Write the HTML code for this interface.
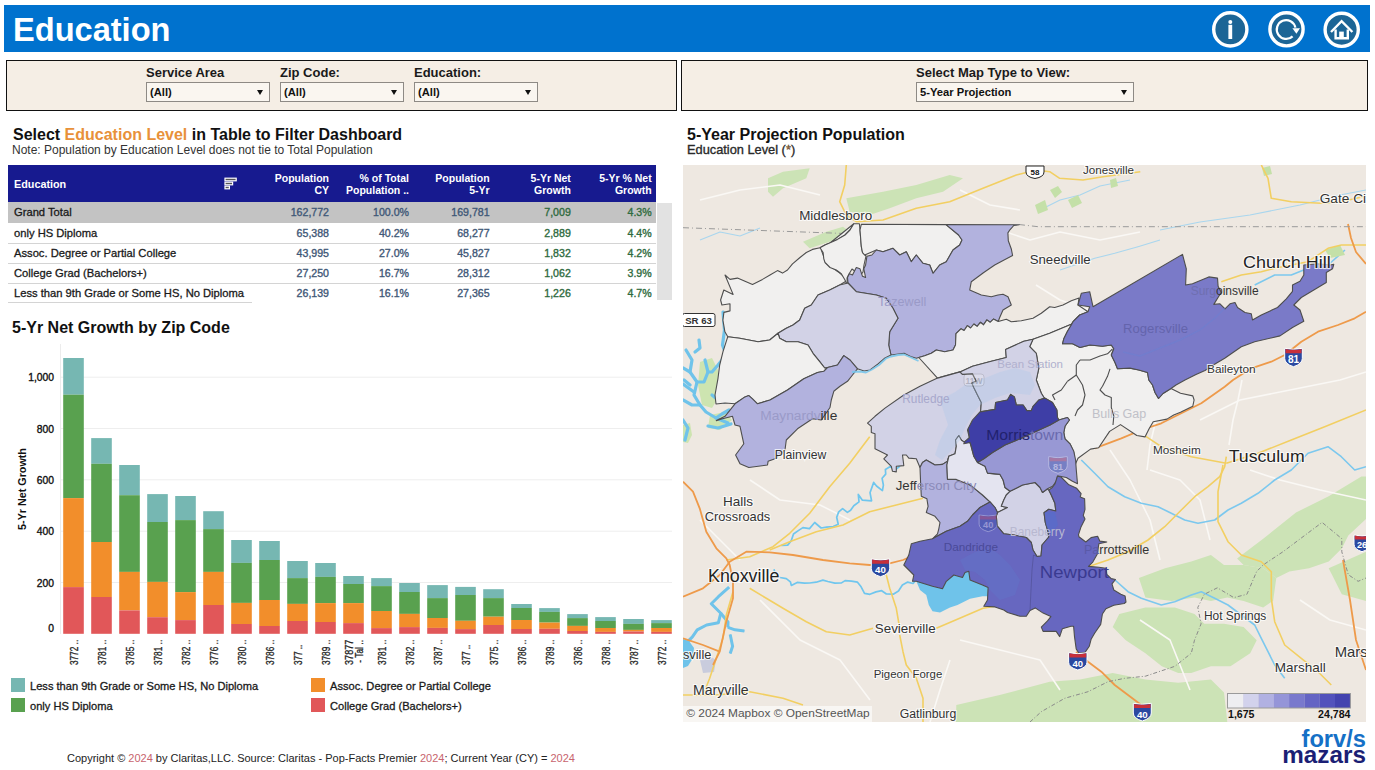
<!DOCTYPE html>
<html><head><meta charset="utf-8">
<style>
*{margin:0;padding:0;box-sizing:border-box}
html,body{width:1375px;height:770px;overflow:hidden;background:#fff;font-family:"Liberation Sans",Arial,sans-serif;color:#000}
.a{position:absolute}
#hdr{left:4px;top:5px;width:1366px;height:47px;background:#0072CE}
#hdr .t{left:9px;top:7px;font-size:32.6px;font-weight:bold;color:#fff;line-height:36px;white-space:nowrap}
.fp{background:#F5EEE5;border:1px solid #111}
.fl{font-size:13px;font-weight:bold;color:#1a1a1a;line-height:14px;white-space:nowrap}
.dd{background:#FAF6F0;border:1px solid #8E8A85;height:20px;font-size:11.2px;font-weight:bold;color:#111;line-height:18px;padding-left:3px;white-space:nowrap}
.dd:after{content:"";position:absolute;right:6px;top:7px;border-left:3.5px solid transparent;border-right:3.5px solid transparent;border-top:5px solid #111}
.h2{font-size:16px;font-weight:bold;color:#111;white-space:nowrap;line-height:18px}
.note{font-size:12px;color:#333;white-space:nowrap;line-height:14px}
#tbl{left:8px;top:165px;width:648px;height:140px}
.th{position:absolute;left:0;top:0;height:37.3px;width:648px;background:#171A8F}
.thc{position:absolute;color:#fff;font-weight:bold;font-size:10.5px;line-height:11.8px;text-align:right;white-space:nowrap}
.row{position:absolute;left:0;width:648px;height:20px}
.rl{position:absolute;left:6px;top:0;font-size:11.2px;color:#1a1a1a;-webkit-text-stroke:0.3px #1a1a1a;line-height:20px;white-space:nowrap}
.num{position:absolute;top:0;font-size:10.6px;-webkit-text-stroke:0.35px currentColor;line-height:20px;text-align:right;white-space:nowrap;width:80px}
.b{color:#3F5877}
.g{color:#2F6B40}
.sep{position:absolute;left:0;height:1px;background:#D4D4D4}
.lg{font-size:11.1px;color:#1a1a1a;-webkit-text-stroke:0.3px #1a1a1a;white-space:nowrap;line-height:14px}
.sw{position:absolute;width:14px;height:14px}
.ax{font-size:10.3px;color:#111;-webkit-text-stroke:0.35px #111;text-align:right;width:30px;white-space:nowrap}
.xl{position:absolute;font-size:9.4px;color:#333;white-space:nowrap;transform-origin:0 0;transform:rotate(-90deg);letter-spacing:-0.35px}
</style></head>
<body>
<!-- header -->
<div id="hdr" class="a">
  <div class="a t">Education</div>
</div>
<svg class="a" style="left:1205px;top:5px" width="165" height="47" viewBox="1205 5 165 47">
  <g fill="#1C6596" stroke="#fff" stroke-width="3.4">
    <circle cx="1230.3" cy="29.4" r="16.6"/>
    <circle cx="1286.5" cy="29.3" r="16.6"/>
    <circle cx="1341.7" cy="29.8" r="16.6"/>
  </g>
  <!-- i -->
  <circle cx="1230.3" cy="21.9" r="2" fill="#fff"/>
  <rect x="1228.4" y="24.8" width="3.8" height="14.2" fill="#fff"/>
  <!-- refresh -->
  <path d="M1292.6 36.4 A9.4 9.4 0 1 1 1295.4 27.6" fill="none" stroke="#fff" stroke-width="2.2"/>
  <path d="M1292.4 28.2 L1300 28.2 L1296.4 33.8 Z" fill="#fff"/>
  <!-- home -->
  <path d="M1331 32 L1341.6 21.2 L1352.4 32" fill="none" stroke="#fff" stroke-width="2.4" stroke-linejoin="miter"/>
  <path d="M1335.6 29.5 V38.2 H1347.8 V29.5" fill="none" stroke="#fff" stroke-width="2.4"/>
  <rect x="1339.2" y="31.6" width="4.6" height="7" fill="#fff"/>
</svg>

<!-- filter panels -->
<div class="a fp" style="left:6px;top:60px;width:671px;height:51px"></div>
<div class="a fl" style="left:146px;top:66px">Service Area</div>
<div class="a dd" style="left:146px;top:82px;width:124px">(All)</div>
<div class="a fl" style="left:280px;top:66px">Zip Code:</div>
<div class="a dd" style="left:280px;top:82px;width:124px">(All)</div>
<div class="a fl" style="left:414px;top:66px">Education:</div>
<div class="a dd" style="left:414px;top:82px;width:124px">(All)</div>

<div class="a fp" style="left:681px;top:60px;width:687px;height:51px"></div>
<div class="a fl" style="left:916px;top:66px">Select Map Type to View:</div>
<div class="a dd" style="left:916px;top:82px;width:218px">5-Year Projection</div>

<!-- table title -->
<div class="a h2" style="left:13px;top:125.5px">Select <span style="color:#E8913A">Education Level</span> in Table to Filter Dashboard</div>
<div class="a note" style="left:12px;top:143px">Note: Population by Education Level does not tie to Total Population</div>

<!-- table -->
<div id="tbl" class="a">
  <div class="th">
    <div class="thc" style="left:6px;top:14px;text-align:left;font-size:10.8px">Education</div>
    <svg class="a" style="left:216px;top:12px" width="14" height="14" viewBox="0 0 14 14">
      <g fill="#555" stroke="#fff" stroke-width="1.2">
        <rect x="1" y="1.2" width="11.2" height="2.6"/>
        <rect x="1" y="5.2" width="7.6" height="2.6"/>
        <rect x="1" y="9.2" width="4.4" height="2.6"/>
      </g>
    </svg>
    <div class="thc" style="right:327px;top:8px">Population<br>CY</div>
    <div class="thc" style="right:247px;top:8px">% of Total<br>Population ..</div>
    <div class="thc" style="right:166.4px;top:8px">Population<br>5-Yr</div>
    <div class="thc" style="right:85.2px;top:8px">5-Yr Net<br>Growth</div>
    <div class="thc" style="right:4.3px;top:8px">5-Yr % Net<br>Growth</div>
  </div>
  <div class="row" style="top:37.3px;height:21.2px;background:#C3C3C3">
    <div class="rl">Grand Total</div>
    <div class="num b" style="left:241px">162,772</div>
    <div class="num b" style="left:321px">100.0%</div>
    <div class="num b" style="left:401.6px">169,781</div>
    <div class="num g" style="left:482.8px">7,009</div>
    <div class="num g" style="left:563.7px">4.3%</div>
  </div>
  <div class="row" style="top:58px">
    <div class="rl">only HS Diploma</div>
    <div class="num b" style="left:241px">65,388</div>
    <div class="num b" style="left:321px">40.2%</div>
    <div class="num b" style="left:401.6px">68,277</div>
    <div class="num g" style="left:482.8px">2,889</div>
    <div class="num g" style="left:563.7px">4.4%</div>
  </div>
  <div class="sep" style="top:78px;width:648px"></div>
  <div class="row" style="top:78px">
    <div class="rl">Assoc. Degree or Partial College</div>
    <div class="num b" style="left:241px">43,995</div>
    <div class="num b" style="left:321px">27.0%</div>
    <div class="num b" style="left:401.6px">45,827</div>
    <div class="num g" style="left:482.8px">1,832</div>
    <div class="num g" style="left:563.7px">4.2%</div>
  </div>
  <div class="sep" style="top:98px;width:648px"></div>
  <div class="row" style="top:98px">
    <div class="rl">College Grad (Bachelors+)</div>
    <div class="num b" style="left:241px">27,250</div>
    <div class="num b" style="left:321px">16.7%</div>
    <div class="num b" style="left:401.6px">28,312</div>
    <div class="num g" style="left:482.8px">1,062</div>
    <div class="num g" style="left:563.7px">3.9%</div>
  </div>
  <div class="sep" style="top:118px;width:648px"></div>
  <div class="row" style="top:118px">
    <div class="rl">Less than 9th Grade or Some HS, No Diploma</div>
    <div class="num b" style="left:241px">26,139</div>
    <div class="num b" style="left:321px">16.1%</div>
    <div class="num b" style="left:401.6px">27,365</div>
    <div class="num g" style="left:482.8px">1,226</div>
    <div class="num g" style="left:563.7px">4.7%</div>
  </div>
  <div class="sep" style="top:137px;width:244px"></div>
</div>
<div class="a" style="left:657px;top:203px;width:15px;height:97px;background:#E2E2E2"></div>

<!-- chart title -->
<div class="a h2" style="left:12px;top:319px">5-Yr Net Growth by Zip Code</div>
<svg class="a" style="left:0;top:340px" width="680" height="300" viewBox="0 340 680 300">
<line x1="61" y1="582.5" x2="672" y2="582.5" stroke="#EEEEEE" stroke-width="1"/>
<line x1="61" y1="531.2" x2="672" y2="531.2" stroke="#EEEEEE" stroke-width="1"/>
<line x1="61" y1="479.8" x2="672" y2="479.8" stroke="#EEEEEE" stroke-width="1"/>
<line x1="61" y1="428.5" x2="672" y2="428.5" stroke="#EEEEEE" stroke-width="1"/>
<line x1="61" y1="377.2" x2="672" y2="377.2" stroke="#EEEEEE" stroke-width="1"/>
<line x1="60.5" y1="344" x2="60.5" y2="634" stroke="#ECECEC" stroke-width="1"/>
<rect x="63.2" y="358.0" width="20.6" height="36.7" fill="#76B7B2"/>
<rect x="63.2" y="394.7" width="20.6" height="103.4" fill="#59A14F"/>
<rect x="63.2" y="498.1" width="20.6" height="89.0" fill="#F28E2B"/>
<rect x="63.2" y="587.1" width="20.6" height="46.7" fill="#E15759"/>
<rect x="91.2" y="438.1" width="20.6" height="25.7" fill="#76B7B2"/>
<rect x="91.2" y="463.8" width="20.6" height="78.2" fill="#59A14F"/>
<rect x="91.2" y="542.0" width="20.6" height="55.0" fill="#F28E2B"/>
<rect x="91.2" y="597.0" width="20.6" height="36.8" fill="#E15759"/>
<rect x="119.2" y="465.0" width="20.6" height="30.2" fill="#76B7B2"/>
<rect x="119.2" y="495.2" width="20.6" height="76.7" fill="#59A14F"/>
<rect x="119.2" y="571.9" width="20.6" height="38.5" fill="#F28E2B"/>
<rect x="119.2" y="610.4" width="20.6" height="23.4" fill="#E15759"/>
<rect x="147.2" y="494.1" width="20.6" height="27.9" fill="#76B7B2"/>
<rect x="147.2" y="522.0" width="20.6" height="59.9" fill="#59A14F"/>
<rect x="147.2" y="581.9" width="20.6" height="35.3" fill="#F28E2B"/>
<rect x="147.2" y="617.2" width="20.6" height="16.6" fill="#E15759"/>
<rect x="175.2" y="496.0" width="20.6" height="24.1" fill="#76B7B2"/>
<rect x="175.2" y="520.1" width="20.6" height="72.0" fill="#59A14F"/>
<rect x="175.2" y="592.1" width="20.6" height="28.0" fill="#F28E2B"/>
<rect x="175.2" y="620.1" width="20.6" height="13.7" fill="#E15759"/>
<rect x="203.2" y="511.2" width="20.6" height="17.9" fill="#76B7B2"/>
<rect x="203.2" y="529.1" width="20.6" height="42.8" fill="#59A14F"/>
<rect x="203.2" y="571.9" width="20.6" height="33.1" fill="#F28E2B"/>
<rect x="203.2" y="605.0" width="20.6" height="28.8" fill="#E15759"/>
<rect x="231.2" y="540.0" width="20.6" height="22.9" fill="#76B7B2"/>
<rect x="231.2" y="562.9" width="20.6" height="40.0" fill="#59A14F"/>
<rect x="231.2" y="602.9" width="20.6" height="21.1" fill="#F28E2B"/>
<rect x="231.2" y="624.0" width="20.6" height="9.8" fill="#E15759"/>
<rect x="259.2" y="541.0" width="20.6" height="19.0" fill="#76B7B2"/>
<rect x="259.2" y="560.0" width="20.6" height="40.0" fill="#59A14F"/>
<rect x="259.2" y="600.0" width="20.6" height="26.0" fill="#F28E2B"/>
<rect x="259.2" y="626.0" width="20.6" height="7.8" fill="#E15759"/>
<rect x="287.2" y="561.0" width="20.6" height="17.1" fill="#76B7B2"/>
<rect x="287.2" y="578.1" width="20.6" height="25.8" fill="#59A14F"/>
<rect x="287.2" y="603.9" width="20.6" height="17.1" fill="#F28E2B"/>
<rect x="287.2" y="621.0" width="20.6" height="12.8" fill="#E15759"/>
<rect x="315.2" y="563.0" width="20.6" height="13.9" fill="#76B7B2"/>
<rect x="315.2" y="576.9" width="20.6" height="26.2" fill="#59A14F"/>
<rect x="315.2" y="603.1" width="20.6" height="18.9" fill="#F28E2B"/>
<rect x="315.2" y="622.0" width="20.6" height="11.8" fill="#E15759"/>
<rect x="343.2" y="576.0" width="20.6" height="8.0" fill="#76B7B2"/>
<rect x="343.2" y="584.0" width="20.6" height="19.1" fill="#59A14F"/>
<rect x="343.2" y="603.1" width="20.6" height="20.0" fill="#F28E2B"/>
<rect x="343.2" y="623.1" width="20.6" height="10.7" fill="#E15759"/>
<rect x="371.2" y="578.1" width="20.6" height="8.0" fill="#76B7B2"/>
<rect x="371.2" y="586.1" width="20.6" height="24.9" fill="#59A14F"/>
<rect x="371.2" y="611.0" width="20.6" height="17.1" fill="#F28E2B"/>
<rect x="371.2" y="628.1" width="20.6" height="5.7" fill="#E15759"/>
<rect x="399.2" y="583.0" width="20.6" height="9.0" fill="#76B7B2"/>
<rect x="399.2" y="592.0" width="20.6" height="21.9" fill="#59A14F"/>
<rect x="399.2" y="613.9" width="20.6" height="13.2" fill="#F28E2B"/>
<rect x="399.2" y="627.1" width="20.6" height="6.7" fill="#E15759"/>
<rect x="427.2" y="585.1" width="20.6" height="13.0" fill="#76B7B2"/>
<rect x="427.2" y="598.1" width="20.6" height="19.9" fill="#59A14F"/>
<rect x="427.2" y="618.0" width="20.6" height="9.9" fill="#F28E2B"/>
<rect x="427.2" y="627.9" width="20.6" height="5.9" fill="#E15759"/>
<rect x="455.2" y="586.9" width="20.6" height="8.1" fill="#76B7B2"/>
<rect x="455.2" y="595.0" width="20.6" height="25.8" fill="#59A14F"/>
<rect x="455.2" y="620.8" width="20.6" height="8.3" fill="#F28E2B"/>
<rect x="455.2" y="629.1" width="20.6" height="4.7" fill="#E15759"/>
<rect x="483.2" y="589.2" width="20.6" height="8.9" fill="#76B7B2"/>
<rect x="483.2" y="598.1" width="20.6" height="18.6" fill="#59A14F"/>
<rect x="483.2" y="616.7" width="20.6" height="8.3" fill="#F28E2B"/>
<rect x="483.2" y="625.0" width="20.6" height="8.8" fill="#E15759"/>
<rect x="511.2" y="604.0" width="20.6" height="4.0" fill="#76B7B2"/>
<rect x="511.2" y="608.0" width="20.6" height="12.0" fill="#59A14F"/>
<rect x="511.2" y="620.0" width="20.6" height="9.0" fill="#F28E2B"/>
<rect x="511.2" y="629.0" width="20.6" height="4.8" fill="#E15759"/>
<rect x="539.2" y="608.1" width="20.6" height="3.8" fill="#76B7B2"/>
<rect x="539.2" y="611.9" width="20.6" height="10.7" fill="#59A14F"/>
<rect x="539.2" y="622.6" width="20.6" height="6.2" fill="#F28E2B"/>
<rect x="539.2" y="628.8" width="20.6" height="5.0" fill="#E15759"/>
<rect x="567.2" y="614.1" width="20.6" height="4.0" fill="#76B7B2"/>
<rect x="567.2" y="618.1" width="20.6" height="7.8" fill="#59A14F"/>
<rect x="567.2" y="625.9" width="20.6" height="5.1" fill="#F28E2B"/>
<rect x="567.2" y="631.0" width="20.6" height="2.8" fill="#E15759"/>
<rect x="595.2" y="617.1" width="20.6" height="3.9" fill="#76B7B2"/>
<rect x="595.2" y="621.0" width="20.6" height="7.0" fill="#59A14F"/>
<rect x="595.2" y="628.0" width="20.6" height="3.9" fill="#F28E2B"/>
<rect x="595.2" y="631.9" width="20.6" height="1.9" fill="#E15759"/>
<rect x="623.2" y="619.0" width="20.6" height="4.9" fill="#76B7B2"/>
<rect x="623.2" y="623.9" width="20.6" height="6.0" fill="#59A14F"/>
<rect x="623.2" y="629.9" width="20.6" height="1.6" fill="#F28E2B"/>
<rect x="623.2" y="631.5" width="20.6" height="2.3" fill="#E15759"/>
<rect x="651.2" y="620.1" width="20.6" height="3.0" fill="#76B7B2"/>
<rect x="651.2" y="623.1" width="20.6" height="4.9" fill="#59A14F"/>
<rect x="651.2" y="628.0" width="20.6" height="3.9" fill="#F28E2B"/>
<rect x="651.2" y="631.9" width="20.6" height="1.9" fill="#E15759"/>
</svg>
<div class="a ax" style="left:24px;top:621.6px;line-height:14px">0</div>
<div class="a ax" style="left:24px;top:576.5px;line-height:14px">200</div>
<div class="a ax" style="left:24px;top:525.2px;line-height:14px">400</div>
<div class="a ax" style="left:24px;top:473.8px;line-height:14px">600</div>
<div class="a ax" style="left:24px;top:422.5px;line-height:14px">800</div>
<div class="a ax" style="left:24px;top:371.2px;line-height:14px">1,000</div>
<div class="a" style="left:16px;top:530px;transform-origin:0 0;transform:rotate(-90deg);font-size:10.75px;font-weight:bold;color:#111;white-space:nowrap;line-height:12px;width:82px;text-align:center">5-Yr Net Growth</div>
<svg class="a" style="left:0;top:630px" width="680" height="45" viewBox="0 630 680 45">
<text transform="translate(78.4,665.1) rotate(-90)" font-size="10" textLength="25.3" lengthAdjust="spacingAndGlyphs" fill="#222" stroke="#222" stroke-width="0.3" font-family="Liberation Sans, sans-serif">3772 ..</text>
<text transform="translate(106.4,665.1) rotate(-90)" font-size="10" textLength="25.3" lengthAdjust="spacingAndGlyphs" fill="#222" stroke="#222" stroke-width="0.3" font-family="Liberation Sans, sans-serif">3781 ..</text>
<text transform="translate(134.4,665.1) rotate(-90)" font-size="10" textLength="25.3" lengthAdjust="spacingAndGlyphs" fill="#222" stroke="#222" stroke-width="0.3" font-family="Liberation Sans, sans-serif">3785 ..</text>
<text transform="translate(162.4,665.1) rotate(-90)" font-size="10" textLength="25.3" lengthAdjust="spacingAndGlyphs" fill="#222" stroke="#222" stroke-width="0.3" font-family="Liberation Sans, sans-serif">3781 ..</text>
<text transform="translate(190.4,665.1) rotate(-90)" font-size="10" textLength="25.3" lengthAdjust="spacingAndGlyphs" fill="#222" stroke="#222" stroke-width="0.3" font-family="Liberation Sans, sans-serif">3782 ..</text>
<text transform="translate(218.4,665.1) rotate(-90)" font-size="10" textLength="25.3" lengthAdjust="spacingAndGlyphs" fill="#222" stroke="#222" stroke-width="0.3" font-family="Liberation Sans, sans-serif">3776 ..</text>
<text transform="translate(246.4,665.1) rotate(-90)" font-size="10" textLength="25.3" lengthAdjust="spacingAndGlyphs" fill="#222" stroke="#222" stroke-width="0.3" font-family="Liberation Sans, sans-serif">3780 ..</text>
<text transform="translate(274.4,665.1) rotate(-90)" font-size="10" textLength="25.3" lengthAdjust="spacingAndGlyphs" fill="#222" stroke="#222" stroke-width="0.3" font-family="Liberation Sans, sans-serif">3786 ..</text>
<text transform="translate(302.4,665.1) rotate(-90)" font-size="10" textLength="20.4" lengthAdjust="spacingAndGlyphs" fill="#222" stroke="#222" stroke-width="0.3" font-family="Liberation Sans, sans-serif">377 ..</text>
<text transform="translate(330.4,665.1) rotate(-90)" font-size="10" textLength="25.3" lengthAdjust="spacingAndGlyphs" fill="#222" stroke="#222" stroke-width="0.3" font-family="Liberation Sans, sans-serif">3789 ..</text>
<text transform="translate(353.0,664.9) rotate(-90)" font-size="10" textLength="25.1" lengthAdjust="spacingAndGlyphs" fill="#222" stroke="#222" stroke-width="0.3" font-family="Liberation Sans, sans-serif">37877</text>
<text transform="translate(363.0,662.8) rotate(-90)" font-size="10" textLength="22.8" lengthAdjust="spacingAndGlyphs" fill="#222" stroke="#222" stroke-width="0.3" font-family="Liberation Sans, sans-serif">- Tal ..</text>
<text transform="translate(386.4,665.1) rotate(-90)" font-size="10" textLength="25.3" lengthAdjust="spacingAndGlyphs" fill="#222" stroke="#222" stroke-width="0.3" font-family="Liberation Sans, sans-serif">3781 ..</text>
<text transform="translate(414.4,665.1) rotate(-90)" font-size="10" textLength="25.3" lengthAdjust="spacingAndGlyphs" fill="#222" stroke="#222" stroke-width="0.3" font-family="Liberation Sans, sans-serif">3782 ..</text>
<text transform="translate(442.4,665.1) rotate(-90)" font-size="10" textLength="25.3" lengthAdjust="spacingAndGlyphs" fill="#222" stroke="#222" stroke-width="0.3" font-family="Liberation Sans, sans-serif">3787 ..</text>
<text transform="translate(470.4,665.1) rotate(-90)" font-size="10" textLength="20.4" lengthAdjust="spacingAndGlyphs" fill="#222" stroke="#222" stroke-width="0.3" font-family="Liberation Sans, sans-serif">377 ..</text>
<text transform="translate(498.4,665.1) rotate(-90)" font-size="10" textLength="25.3" lengthAdjust="spacingAndGlyphs" fill="#222" stroke="#222" stroke-width="0.3" font-family="Liberation Sans, sans-serif">3775 ..</text>
<text transform="translate(526.4,665.1) rotate(-90)" font-size="10" textLength="25.3" lengthAdjust="spacingAndGlyphs" fill="#222" stroke="#222" stroke-width="0.3" font-family="Liberation Sans, sans-serif">3786 ..</text>
<text transform="translate(554.4,665.1) rotate(-90)" font-size="10" textLength="25.3" lengthAdjust="spacingAndGlyphs" fill="#222" stroke="#222" stroke-width="0.3" font-family="Liberation Sans, sans-serif">3789 ..</text>
<text transform="translate(582.4,665.1) rotate(-90)" font-size="10" textLength="25.3" lengthAdjust="spacingAndGlyphs" fill="#222" stroke="#222" stroke-width="0.3" font-family="Liberation Sans, sans-serif">3786 ..</text>
<text transform="translate(610.4,665.1) rotate(-90)" font-size="10" textLength="25.3" lengthAdjust="spacingAndGlyphs" fill="#222" stroke="#222" stroke-width="0.3" font-family="Liberation Sans, sans-serif">3788 ..</text>
<text transform="translate(638.4,665.1) rotate(-90)" font-size="10" textLength="25.3" lengthAdjust="spacingAndGlyphs" fill="#222" stroke="#222" stroke-width="0.3" font-family="Liberation Sans, sans-serif">3787 ..</text>
<text transform="translate(666.4,665.1) rotate(-90)" font-size="10" textLength="25.3" lengthAdjust="spacingAndGlyphs" fill="#222" stroke="#222" stroke-width="0.3" font-family="Liberation Sans, sans-serif">3772 ..</text>
</svg>

<!-- legend -->
<div class="sw" style="left:11px;top:678px;background:#76B7B2"></div>
<div class="a lg" style="left:30px;top:679px">Less than 9th Grade or Some HS, No Diploma</div>
<div class="sw" style="left:11px;top:698px;background:#59A14F"></div>
<div class="a lg" style="left:30px;top:699px">only HS Diploma</div>
<div class="sw" style="left:311px;top:678px;background:#F28E2B"></div>
<div class="a lg" style="left:330px;top:679px">Assoc. Degree or Partial College</div>
<div class="sw" style="left:311px;top:698px;background:#E15759"></div>
<div class="a lg" style="left:330px;top:699px">College Grad (Bachelors+)</div>

<!-- map title -->
<div class="a h2" style="left:687px;top:125.5px">5-Year Projection Population</div>
<div class="a" style="left:687px;top:142.8px;font-size:12.8px;color:#2a2a2a;-webkit-text-stroke:0.35px #2a2a2a;white-space:nowrap;line-height:14px">Education Level (<span style="color:#E8913A">*</span>)</div>

<svg class="a" style="left:683px;top:165px" width="683" height="557" viewBox="683 165 683 557">
<defs><clipPath id="mc"><rect x="683" y="165" width="683" height="557"/></clipPath></defs>
<g clip-path="url(#mc)">
<rect x="683" y="165" width="683" height="557" fill="#EEE8E1"/>
<polygon points="1237.1,558.4 1263.2,538.7 1296.0,512.5 1328.7,496.2 1361.4,476.5 1366.0,476.5 1366.0,519.1 1348.3,535.4 1341.8,548.5 1328.7,561.6 1309.1,568.2 1289.4,571.4 1276.3,578.0 1263.2,568.2 1243.6,564.9" fill="#CCE3B6"/>
<polygon points="1138.9,578.0 1165.1,568.2 1191.3,561.6 1210.9,555.1 1224.0,564.9 1243.6,564.9 1263.2,568.2 1276.3,578.0 1273.1,600.9 1263.2,607.4 1243.6,600.9 1227.3,597.6 1210.9,600.9 1194.5,597.6 1171.6,600.9 1145.4,597.6" fill="#CCE3B6"/>
<polygon points="1119.3,614.0 1145.4,607.4 1174.9,607.4 1194.5,614.0 1204.3,623.8 1224.0,623.8 1243.6,627.1 1256.7,640.2 1250.2,653.2 1230.5,666.3 1210.9,666.3 1191.3,672.9 1178.2,672.9 1161.8,666.3 1145.4,653.2 1125.8,640.2 1112.7,627.1" fill="#CCE3B6"/>
<polygon points="956.0,722.0 956.3,705.0 999.7,695.0 1049.7,681.7 1080.0,679.4 1112.7,672.9 1145.4,679.4 1178.2,682.7 1210.9,679.4 1224.0,692.5 1227.3,722.0" fill="#CCE3B6"/>
<polygon points="1328.7,568.2 1366.0,551.8 1366.0,600.9 1341.8,594.3" fill="#CCE3B6"/>
<polygon points="768.0,178.3 783.0,171.7 809.7,168.3 806.3,178.3 783.0,188.3 773.0,196.7 768.0,191.7" fill="#CCE3B6"/>
<polygon points="846.3,198.3 883.0,191.7 916.3,185.0 949.7,175.0 963.0,178.3 943.0,191.7 916.3,198.3 889.7,208.3 869.7,215.0 849.7,211.7" fill="#CCE3B6"/>
<polygon points="803.0,241.7 826.3,231.7 843.0,226.7 849.7,231.7 829.7,241.7 809.7,248.3" fill="#CCE3B6"/>
<polygon points="700.0,362.0 712.0,358.0 718.0,370.0 720.0,395.0 712.0,408.0 702.0,405.0 698.0,385.0" fill="#CDE4B0"/>
<polygon points="683.0,425.0 690.0,423.0 692.0,435.0 688.0,443.0 683.0,442.0" fill="#CDE4B0"/>
<polygon points="710.0,415.0 725.0,412.0 732.0,420.0 720.0,430.0 708.0,428.0" fill="#CDE4B0"/>
<polygon points="683.0,639.0 689.0,641.0 694.0,648.0 693.0,658.0 688.0,666.0 683.0,668.0" fill="#6FC3EA"/>
<polyline points="686.0,350.0 692.0,360.0 690.0,372.0 697.0,382.0 694.0,395.0 700.0,405.0 706.0,412.0 716.0,418.0 728.0,423.0" fill="none" stroke="#6FC3EA" stroke-width="3.2" stroke-linejoin="round" stroke-linecap="round"/>
<polyline points="683.0,368.0 690.0,372.0" fill="none" stroke="#6FC3EA" stroke-width="3.2" stroke-linejoin="round" stroke-linecap="round"/>
<polyline points="683.0,384.0 694.0,392.0" fill="none" stroke="#6FC3EA" stroke-width="3.2" stroke-linejoin="round" stroke-linecap="round"/>
<polyline points="683.0,400.0 692.0,405.0 700.0,405.0" fill="none" stroke="#6FC3EA" stroke-width="3.2" stroke-linejoin="round" stroke-linecap="round"/>
<polyline points="705.0,360.0 708.0,372.0 704.0,382.0 697.0,382.0" fill="none" stroke="#6FC3EA" stroke-width="3.2" stroke-linejoin="round" stroke-linecap="round"/>
<polyline points="723.0,312.0 724.5,330.0 722.5,345.0 726.0,355.0 718.0,365.0 712.0,372.0 708.0,372.0" fill="none" stroke="#6FC3EA" stroke-width="3.2" stroke-linejoin="round" stroke-linecap="round"/>
<polyline points="712.0,395.0 718.0,400.0 724.0,402.0" fill="none" stroke="#6FC3EA" stroke-width="3.2" stroke-linejoin="round" stroke-linecap="round"/>
<polyline points="716.0,418.0 722.0,414.0 729.0,410.0" fill="none" stroke="#6FC3EA" stroke-width="3.2" stroke-linejoin="round" stroke-linecap="round"/>
<polyline points="708.0,426.0 718.0,428.0 731.0,424.0" fill="none" stroke="#6FC3EA" stroke-width="3.2" stroke-linejoin="round" stroke-linecap="round"/>
<polyline points="683.0,420.0 688.0,428.0 685.0,440.0" fill="none" stroke="#6FC3EA" stroke-width="3.2" stroke-linejoin="round" stroke-linecap="round"/>
<polyline points="695.0,352.0 700.0,348.0 699.0,340.0" fill="none" stroke="#6FC3EA" stroke-width="3.2" stroke-linejoin="round" stroke-linecap="round"/>
<polyline points="690.0,385.0 684.0,380.0" fill="none" stroke="#6FC3EA" stroke-width="3.2" stroke-linejoin="round" stroke-linecap="round"/>
<polygon points="916.3,581.3 923.8,581.3 932.5,586.3 942.5,588.8 946.3,581.3 953.8,575.0 962.5,577.5 965.0,572.5 968.8,571.3 970.0,580.0 982.5,585.0 988.1,587.5 988.1,596.3 982.5,596.3 970.0,598.8 957.5,605.0 950.0,607.5 940.0,612.5 932.5,611.3 928.8,605.0 926.3,595.0 920.0,590.0" fill="#6FC3EA"/>
<polygon points="700,660 708,655 716,660 714,672 703,673" fill="#C9CCDD"/>
<polyline points="1242.0,380.0 1238.0,400.0 1233.0,420.0 1229.0,445.0" fill="none" stroke="#FAF8F5" stroke-width="1.6" stroke-linejoin="round"/>
<polyline points="1160.0,400.0 1156.0,420.0 1150.0,445.0 1147.0,470.0" fill="none" stroke="#FAF8F5" stroke-width="1.6" stroke-linejoin="round"/>
<polyline points="700.0,200.0 740.0,190.0 780.0,185.0 820.0,195.0" fill="none" stroke="#FAF8F5" stroke-width="1.6" stroke-linejoin="round"/>
<polyline points="880.0,290.0 900.0,280.0 930.0,275.0" fill="none" stroke="#FAF8F5" stroke-width="1.6" stroke-linejoin="round"/>
<polyline points="1036.0,285.0 1060.0,300.0 1090.0,310.0" fill="none" stroke="#FAF8F5" stroke-width="1.6" stroke-linejoin="round"/>
<polyline points="1200.0,420.0 1240.0,400.0 1290.0,390.0 1340.0,380.0 1366.0,372.0" fill="none" stroke="#FAF8F5" stroke-width="1.6" stroke-linejoin="round"/>
<polyline points="1250.0,470.0 1280.0,480.0 1320.0,490.0 1366.0,500.0" fill="none" stroke="#FAF8F5" stroke-width="1.6" stroke-linejoin="round"/>
<polyline points="1150.0,470.0 1180.0,480.0 1200.0,500.0 1210.0,540.0" fill="none" stroke="#FAF8F5" stroke-width="1.6" stroke-linejoin="round"/>
<polyline points="750.0,480.0 780.0,500.0 820.0,505.0 850.0,520.0" fill="none" stroke="#FAF8F5" stroke-width="1.6" stroke-linejoin="round"/>
<polyline points="760.0,600.0 800.0,640.0 840.0,660.0 870.0,700.0" fill="none" stroke="#FAF8F5" stroke-width="1.6" stroke-linejoin="round"/>
<polyline points="960.0,640.0 1000.0,650.0 1040.0,660.0 1060.0,690.0" fill="none" stroke="#FAF8F5" stroke-width="1.6" stroke-linejoin="round"/>
<polyline points="700.0,520.0 720.0,540.0 740.0,560.0" fill="none" stroke="#FAF8F5" stroke-width="1.6" stroke-linejoin="round"/>
<polyline points="950.0,660.0 940.0,690.0 930.0,722.0" fill="none" stroke="#FAF8F5" stroke-width="1.6" stroke-linejoin="round"/>
<polyline points="1110.0,450.0 1130.0,480.0 1150.0,520.0 1160.0,560.0" fill="none" stroke="#FAF8F5" stroke-width="1.6" stroke-linejoin="round"/>
<polyline points="1140.0,620.0 1170.0,640.0 1190.0,690.0" fill="none" stroke="#FAF8F5" stroke-width="1.6" stroke-linejoin="round"/>
<polyline points="1300.0,600.0 1330.0,620.0 1366.0,630.0" fill="none" stroke="#FAF8F5" stroke-width="1.6" stroke-linejoin="round"/>
<polyline points="1000.0,230.0 1030.0,240.0 1060.0,232.0 1100.0,240.0 1140.0,232.0" fill="none" stroke="#FAF8F5" stroke-width="1.6" stroke-linejoin="round"/>
<polyline points="960.0,190.0 990.0,205.0 1020.0,210.0" fill="none" stroke="#FAF8F5" stroke-width="1.6" stroke-linejoin="round"/>
<polyline points="1060.0,270.0 1094.7,258.3 1114.7,253.3 1138.0,246.7 1160.0,240.0" fill="none" stroke="#A9D6EE" stroke-width="1.1" stroke-linejoin="round"/>
<polyline points="1160.0,230.0 1200.0,222.0 1250.0,215.0 1300.0,205.0 1340.0,195.0 1366.0,190.0" fill="none" stroke="#A9D6EE" stroke-width="1.1" stroke-linejoin="round"/>
<polyline points="1040.0,210.0 1060.0,200.0 1080.0,195.0 1100.0,186.0 1130.0,180.0" fill="none" stroke="#A9D6EE" stroke-width="1.1" stroke-linejoin="round"/>
<polyline points="700.0,240.0 720.0,232.0 740.0,236.0 760.0,228.0" fill="none" stroke="#A9D6EE" stroke-width="1.1" stroke-linejoin="round"/>
<polyline points="774.0,569.2 775.6,574.9 780.1,577.5 786.3,578.6 790.4,581.8 791.3,585.4 797.2,582.4 804.5,583.1 809.7,583.0 816.2,582.2 822.9,580.1 827.8,581.5 834.9,583.1 841.5,582.9 845.1,580.6 851.4,581.2 857.5,582.2 861.1,586.8 864.5,593.3 869.9,594.3 876.0,591.9 881.7,590.7 886.4,594.0 893.3,594.2 898.5,591.0 902.4,585.0 907.7,582.1 913.1,583.5 916.0,580.0" fill="none" stroke="#6FC6EE" stroke-width="1.7" stroke-linejoin="round"/>
<polyline points="781.2,545.5 787.7,545.1 791.3,540.6 793.5,534.0 798.3,530.6 802.9,527.6 809.5,528.6 814.7,522.5 821.1,528.0 826.6,527.2 833.2,526.5 838.2,524.3 836.7,517.3 838.7,511.9 842.6,508.7 847.4,512.4 850.6,510.2 853.8,505.8 859.0,501.9 858.3,494.4 862.4,500.2 871.6,500.8 870.0,492.7 873.7,482.4 876.5,486.0 882.4,490.6 883.4,485.1 882.1,478.3 885.7,474.1 885.4,469.4 890.3,466.6 895.6,469.7 900.0,466.0" fill="none" stroke="#6FC6EE" stroke-width="1.7" stroke-linejoin="round"/>
<polyline points="1081.3,460.0 1094.7,473.3 1108.0,486.7 1124.7,496.7 1141.3,503.3 1158.0,506.7 1171.3,513.3 1184.7,520.0 1198.0,523.3 1214.7,520.0 1228.0,510.0 1241.3,503.3 1258.0,493.3 1274.7,480.0 1291.3,470.0 1308.0,453.3 1328.0,446.7 1341.3,456.7 1354.7,470.0 1366.0,466.7" fill="none" stroke="#7CC8EE" stroke-width="1.6" stroke-linejoin="round"/>
<polyline points="1115.0,580.0 1128.0,591.7 1141.3,598.3 1161.3,605.0 1174.7,601.7 1191.3,595.0 1201.3,591.7 1214.7,598.3 1228.0,605.0 1241.3,615.0 1254.7,625.0 1261.3,638.3 1268.0,651.7 1274.7,665.0 1284.7,678.3" fill="none" stroke="#7CC8EE" stroke-width="1.6" stroke-linejoin="round"/>
<polyline points="1254.7,285.0 1274.7,275.0 1291.3,275.0 1308.0,268.3 1328.0,265.0 1345.0,250.0" fill="none" stroke="#7CC8EE" stroke-width="1.6" stroke-linejoin="round"/>
<polyline points="729.1,587.2 718.4,596.7 711.3,603.8 720.8,613.2 718.4,622.7 706.6,625.0 697.2,629.8 692.4,636.9 687.7,641.6 683.0,644.0" fill="none" stroke="#7CC8EE" stroke-width="1.6" stroke-linejoin="round"/>
<polyline points="727.9,627.4 735.0,629.8 744.4,631.0" fill="none" stroke="#7CC8EE" stroke-width="1.6" stroke-linejoin="round"/>
<polyline points="730.2,634.5 732.6,646.3 730.2,653.4" fill="none" stroke="#7CC8EE" stroke-width="1.6" stroke-linejoin="round"/>
<polyline points="720.8,613.2 728.0,622.0 727.9,627.4" fill="none" stroke="#7CC8EE" stroke-width="1.6" stroke-linejoin="round"/>
<polyline points="729.1,587.2 718.4,596.7 711.3,603.8 720.8,613.2 718.4,622.7 706.6,625.0 697.2,629.8 692.4,636.9 687.7,641.6 683.0,644.0" fill="none" stroke="#6FC3EA" stroke-width="3" stroke-linejoin="round"/>
<polyline points="727.9,627.4 735.0,629.8 744.4,631.0" fill="none" stroke="#6FC3EA" stroke-width="3" stroke-linejoin="round"/>
<polyline points="730.2,634.5 732.6,646.3 730.2,653.4" fill="none" stroke="#6FC3EA" stroke-width="3" stroke-linejoin="round"/>
<polyline points="720.8,613.2 728.0,622.0 727.9,627.4" fill="none" stroke="#6FC3EA" stroke-width="3" stroke-linejoin="round"/>
<polygon points="1050.0,190.0 1058.0,186.0 1062.0,192.0 1055.0,198.0" fill="#C4E0A8"/>
<polygon points="1068.0,200.0 1078.0,195.0 1082.0,203.0 1072.0,208.0" fill="#C4E0A8"/>
<polygon points="1035.0,205.0 1045.0,200.0 1048.0,210.0 1038.0,214.0" fill="#C4E0A8"/>
<polygon points="1110.0,180.0 1116.0,178.0 1118.0,186.0 1111.0,188.0" fill="#C4E0A8"/>
<polygon points="1262.0,168.0 1270.0,166.0 1272.0,174.0 1264.0,176.0" fill="#C4E0A8"/>
<polygon points="1325.0,250.0 1340.0,245.0 1345.0,255.0 1330.0,258.0" fill="#C4E0A8"/>
<polyline points="846.3,165.0 844.7,185.0 839.7,201.7 846.3,215.0 856.3,221.7 883.0,220.0 916.3,208.3 949.7,201.7 983.0,188.3 1016.3,175.0 1036.3,170.0 1049.7,171.7 1059.7,178.3 1083.0,180.0 1103.0,176.7 1140.3,171.7" fill="none" stroke="#F2CF62" stroke-width="1.6" stroke-linejoin="round"/>
<polyline points="1261.3,165.0 1268.0,178.3 1271.3,198.3 1291.3,201.7 1321.3,203.3 1341.3,201.7 1366.0,196.0" fill="none" stroke="#F2CF62" stroke-width="1.6" stroke-linejoin="round"/>
<polyline points="1221.3,281.7 1241.3,275.0 1261.3,271.7 1274.7,268.3 1291.3,265.0 1308.0,261.7 1328.0,248.3 1341.3,245.0 1366.0,245.0" fill="none" stroke="#F2CF62" stroke-width="1.6" stroke-linejoin="round"/>
<polyline points="923.0,498.3 896.3,505.0 869.7,511.7 843.0,525.0 816.3,531.7 789.7,541.7 769.7,550.0" fill="none" stroke="#F2CF62" stroke-width="1.6" stroke-linejoin="round"/>
<polyline points="869.7,436.7 849.7,463.3 829.7,486.7 809.7,513.3 789.7,533.3 773.0,546.7 749.7,556.7 726.3,560.0" fill="none" stroke="#F2CF62" stroke-width="1.6" stroke-linejoin="round"/>
<polyline points="899.7,628.3 896.3,608.3 889.7,588.3 886.3,575.0 883.0,565.0" fill="none" stroke="#F2CF62" stroke-width="1.6" stroke-linejoin="round"/>
<polyline points="936.3,628.3 959.7,618.3 983.0,608.3 1003.0,605.0 1016.3,601.7" fill="none" stroke="#F2CF62" stroke-width="1.6" stroke-linejoin="round"/>
<polyline points="899.7,635.0 903.0,651.7 906.3,665.0 916.3,678.3 923.0,698.3 923.0,722.0" fill="none" stroke="#F2CF62" stroke-width="1.6" stroke-linejoin="round"/>
<polyline points="873.0,628.3 849.7,635.0 826.3,631.7 806.3,621.7 783.0,608.3 766.3,598.3 749.7,588.3" fill="none" stroke="#F2CF62" stroke-width="1.6" stroke-linejoin="round"/>
<polyline points="683.0,695.0 716.3,695.0 749.7,691.7 783.0,698.3 803.0,705.0" fill="none" stroke="#F2CF62" stroke-width="1.6" stroke-linejoin="round"/>
<polyline points="703.0,695.0 709.7,678.3 716.3,658.3 723.0,638.3 726.3,615.0 733.0,591.7" fill="none" stroke="#F2CF62" stroke-width="1.6" stroke-linejoin="round"/>
<polyline points="1088.0,566.7 1108.0,560.0 1128.0,551.7 1148.0,540.0 1164.7,526.7 1181.3,510.0 1194.7,496.7 1208.0,486.7 1219.7,476.7 1224.7,466.7 1226.3,456.7" fill="none" stroke="#F2CF62" stroke-width="1.6" stroke-linejoin="round"/>
<polyline points="1226.3,463.3 1258.0,453.3 1291.3,440.0 1324.7,426.7 1366.0,410.0" fill="none" stroke="#F2CF62" stroke-width="1.6" stroke-linejoin="round"/>
<polyline points="1141.3,433.3 1161.3,446.7 1191.3,456.7 1226.3,463.3" fill="none" stroke="#F2CF62" stroke-width="1.6" stroke-linejoin="round"/>
<polyline points="1223.0,465.0 1218.0,491.7 1218.0,521.7 1228.0,541.7 1241.3,555.0 1261.3,561.7 1271.3,571.7 1271.3,598.3 1274.7,621.7 1284.7,645.0 1301.3,658.3 1318.0,671.7 1331.3,685.0" fill="none" stroke="#F2CF62" stroke-width="1.6" stroke-linejoin="round"/>
<polyline points="1094.7,448.3 1121.3,438.3 1141.3,430.0 1161.3,423.3 1181.3,413.3 1201.3,403.3 1224.7,386.7 1233.0,380.0 1251.3,368.3 1271.3,361.7 1284.7,355.0 1301.3,341.7 1318.0,331.7 1338.0,325.0 1354.7,318.3 1366.0,311.7" fill="none" stroke="#EE9A4A" stroke-width="1.8" stroke-linejoin="round"/>
<polyline points="683.0,596.7 703.0,588.3 719.7,575.0 729.7,561.7 746.3,551.7 769.7,552.3 793.0,555.0 823.0,560.0 849.7,563.3 869.7,565.0 889.7,563.3 903.0,560.0 912.0,556.0" fill="none" stroke="#EE9A4A" stroke-width="1.8" stroke-linejoin="round"/>
<polyline points="683.0,481.7 693.0,491.7 699.7,508.3 706.3,531.7 716.3,548.3 726.3,558.3 729.7,565.0 733.0,581.7 733.0,598.3 726.3,621.7 719.7,651.7 713.0,665.0" fill="none" stroke="#EE9A4A" stroke-width="1.8" stroke-linejoin="round"/>
<polyline points="683.0,638.3 703.0,645.0 719.7,651.7" fill="none" stroke="#EE9A4A" stroke-width="1.8" stroke-linejoin="round"/>
<polyline points="1076.0,652.0 1088.0,661.7 1101.3,671.7 1114.7,685.0 1128.0,695.0 1141.3,705.0" fill="none" stroke="#EE9A4A" stroke-width="1.8" stroke-linejoin="round"/>
<polyline points="1343.0,560.0 1350.0,600.0 1356.0,640.0 1366.0,670.0" fill="none" stroke="#EE9A4A" stroke-width="1.8" stroke-linejoin="round"/>
<polyline points="1366.0,264.0 1356.0,252.0 1351.0,238.0 1348.0,224.0" fill="none" stroke="#EE9A4A" stroke-width="1.8" stroke-linejoin="round"/>
<polyline points="683,227.7 845,233.5" fill="none" stroke="#9A9A9A" stroke-width="1" stroke-dasharray="6,3,1,3"/>
<polyline points="1019,224.5 1038,226.7 1366,226.7" fill="none" stroke="#9A9A9A" stroke-width="1" stroke-dasharray="6,3,1,3"/>
<polyline points="1030,722 1041.3,711.7 1064.7,698.3 1088,691.7 1108,681.7 1124.7,678.3 1145.4,676.2 1174.9,666.3 1191.3,653.2 1194.5,640.2 1201.1,623.8 1197.8,607.4 1204.3,594.3 1217.4,587.8 1233.8,597.6 1246.9,594.3 1256.7,571.4 1263.2,564.9 1282.9,551.8 1322.1,522.4 1341.8,538.7 1341.8,551.8 1348.3,574.7 1358.1,581.3 1366,578" fill="none" stroke="#8A8A8A" stroke-width="1" stroke-dasharray="4,2,1,2"/>
<polygon points="853.8,223.8 850.0,230.0 845.0,235.0 837.5,239.4 825.0,245.0 820.0,247.8 812.5,249.4 806.3,252.5 800.0,257.5 792.5,263.8 787.5,270.0 782.5,273.1 777.5,270.6 770.0,275.0 762.5,279.4 752.5,284.4 745.0,281.3 737.5,278.1 730.0,279.4 725.0,275.0 733.1,294.4 723.8,290.0 720.6,300.0 721.9,305.0 730.0,303.8 730.0,310.9 723.9,312.4 722.9,320.2 724.9,331.8 727.8,336.7 739.7,338.3 758.0,341.7 769.7,340.0 778.0,333.3 786.3,328.3 793.0,325.0 799.7,320.0 804.7,308.3 811.3,305.0 818.0,295.0 829.7,290.0 839.7,285.0 848.0,280.0 838.0,271.7 826.3,263.3 821.3,250.0" fill="#F1F0EF" stroke="#4E4E4E" stroke-width="1.1" stroke-linejoin="round"/>
<polygon points="853.8,223.8 859.4,223.8 860.0,230.0 861.3,246.3 862.5,252.5 866.0,256.0 864.0,265.0 863.0,272.0 860.0,276.0 856.0,272.0 852.0,269.0 849.0,274.0 847.0,278.0 847.5,286.3 845.0,280.0 841.3,273.8 836.3,270.0 830.0,267.5 825.0,262.5 823.8,258.8 823.1,252.5 820.0,247.8 825.0,245.0 837.5,239.4 845.0,235.0 850.0,230.0" fill="#F1F0EF" stroke="#4E4E4E" stroke-width="1.1" stroke-linejoin="round"/>
<polygon points="861.3,224.3 946.0,224.6 958.6,235.0 962.0,240.0 959.7,245.0 953.0,250.0 946.3,261.7 939.7,265.0 933.0,273.3 929.7,265.0 923.0,263.3 916.3,255.0 911.3,261.7 906.3,251.7 899.7,255.0 893.0,248.3 883.0,251.7 876.3,250.0 864.7,255.0 862.5,252.5 861.3,246.3 860.0,230.0" fill="#F1F0EF" stroke="#4E4E4E" stroke-width="1.1" stroke-linejoin="round"/>
<polygon points="946.0,224.6 1019.2,224.7 1013.8,225.5 1009.9,229.8 1007.9,232.9 1008.3,240.7 1011.4,249.3 1012.6,255.5 1003.6,260.2 994.7,265.0 983.4,272.7 971.3,281.7 969.7,290.0 981.3,295.0 991.3,296.7 998.0,295.0 1003.0,294.2 1008.0,296.7 1011.3,305.0 1003.0,310.0 999.7,317.5 998.2,321.5 993.4,319.1 990.1,322.3 986.9,319.9 983.6,324.8 980.4,322.3 977.1,326.4 973.9,324.0 970.6,328.0 967.4,325.6 964.1,330.5 960.9,328.8 956.0,333.7 955.5,345.0 953.0,350.0 944.7,351.7 936.3,350.0 931.3,353.3 924.7,355.8 918.8,357.5 916.3,358.3 910.6,356.4 904.1,353.2 891.0,355.0 888.7,345.1 889.7,331.7 898.0,318.3 893.0,308.3 886.3,298.3 876.3,295.0 856.3,291.7 848.0,283.0 847.5,277.5 849.4,273.8 852.5,275.0 854.4,271.3 856.3,267.5 860.0,268.8 862.5,276.3 865.6,277.5 863.8,268.8 865.6,265.0 866.9,256.3 871.9,255.0 876.3,250.0 883.0,251.7 893.0,248.3 899.7,255.0 906.3,251.7 911.3,261.7 916.3,255.0 923.0,263.3 929.7,265.0 933.0,273.3 939.7,265.0 946.3,261.7 953.0,250.0 959.7,245.0 962.0,240.0 958.6,235.0" fill="#B2B2DE" stroke="#4E4E4E" stroke-width="1.1" stroke-linejoin="round"/>
<polygon points="848.0,283.0 856.3,291.7 876.3,295.0 886.3,298.3 893.0,308.3 898.0,318.3 889.7,331.7 888.7,345.1 891.0,355.0 885.0,358.0 878.0,364.0 870.0,370.0 864.0,371.0 857.5,368.8 850.0,360.0 843.8,355.6 837.5,365.0 827.5,367.5 824.7,368.0 819.7,361.7 813.0,353.3 808.0,345.0 798.0,341.7 786.3,341.7 779.7,338.3 778.0,333.3 786.3,328.3 793.0,325.0 799.7,320.0 804.7,308.3 811.3,305.0 818.0,295.0 829.7,290.0 839.7,285.0" fill="#D2D2E6" stroke="#4E4E4E" stroke-width="1.1" stroke-linejoin="round"/>
<polygon points="727.8,336.7 739.7,338.3 758.0,341.7 769.7,340.0 778.0,333.3 779.7,338.3 786.3,341.7 798.0,341.7 808.0,345.0 813.0,353.3 819.7,361.7 824.7,368.0 827.5,367.5 823.8,371.3 817.5,372.5 803.8,378.8 787.5,390.0 770.0,400.0 757.5,403.8 752.5,398.8 748.8,395.6 745.0,396.9 735.0,403.8 725.0,403.0 716.0,404.0 715.0,395.0 718.0,378.3 719.7,365.0 723.0,351.7" fill="#F1F0EF" stroke="#4E4E4E" stroke-width="1.1" stroke-linejoin="round"/>
<polygon points="716.3,420.6 725.0,416.3 735.0,403.8 745.0,396.9 748.8,395.6 752.5,398.8 757.5,403.8 770.0,400.0 787.5,390.0 803.8,378.8 817.5,372.5 823.8,371.3 827.5,367.5 837.5,365.0 843.8,355.6 850.0,360.0 857.5,368.8 852.5,375.0 847.5,381.3 840.0,386.3 833.8,391.3 831.3,400.0 830.0,407.5 821.3,420.0 812.5,418.8 797.5,428.8 786.3,440.0 785.0,450.0 775.0,458.8 768.1,461.3 767.5,465.0 748.8,467.5 740.0,463.8 735.6,455.0 743.8,443.8 740.0,426.3 735.0,425.0 732.5,416.3 722.5,418.8" fill="#B2B2DE" stroke="#4E4E4E" stroke-width="1.1" stroke-linejoin="round"/>
<polygon points="918.8,357.5 924.7,355.8 931.3,353.3 936.3,350.0 944.7,351.7 953.0,350.0 955.5,345.0 956.0,333.7 960.9,328.8 964.1,330.5 967.4,325.6 970.6,328.0 973.9,324.0 977.1,326.4 980.4,322.3 983.6,324.8 986.9,319.9 990.1,322.3 993.4,319.1 998.2,321.5 1006.3,319.2 1011.3,321.7 1021.3,320.8 1033.0,318.3 1041.3,313.3 1049.7,306.7 1054.7,307.5 1063.0,305.0 1071.3,300.8 1079.0,298.0 1078.0,305.0 1088.0,311.7 1079.7,315.0 1073.0,321.7 1071.3,324.2 1049.7,333.3 1033.0,339.2 1023.8,341.3 1005.6,349.4 1006.3,357.5 991.3,361.3 972.5,366.3 960.0,371.9 937.5,378.1" fill="#F1F0EF" stroke="#4E4E4E" stroke-width="1.1" stroke-linejoin="round"/>
<polygon points="1033.0,339.2 1049.7,333.3 1071.3,324.2 1071.3,325.0 1067.5,331.3 1063.8,338.8 1062.5,343.8 1072.5,343.8 1080.0,347.5 1090.0,345.0 1102.5,346.3 1111.3,345.0 1113.8,348.8 1111.3,355.0 1115.0,362.5 1117.5,368.8 1130.0,368.1 1138.8,370.0 1147.5,372.5 1148.8,380.0 1152.5,385.0 1155.0,392.5 1158.5,398.5 1163.0,393.5 1171.0,388.5 1180.5,393.2 1192.8,395.9 1194.1,400.0 1192.8,406.2 1180.5,412.3 1173.7,415.0 1166.9,419.1 1153.2,421.8 1149.1,428.7 1145.0,436.9 1136.8,435.5 1120.5,424.6 1109.6,431.4 1098.6,447.8 1090.5,449.1 1078.0,458.3 1075.0,465.0 1073.8,452.5 1070.0,443.8 1065.0,438.8 1063.8,432.5 1065.0,426.3 1069.4,420.0 1067.5,417.5 1058.8,420.0 1057.5,417.5 1056.9,410.0 1052.5,402.5 1049.7,406.7 1041.3,393.3 1036.3,380.0 1038.8,368.3 1036.3,353.3 1029.7,346.7" fill="#F1F0EF" stroke="#4E4E4E" stroke-width="1.1" stroke-linejoin="round"/>
<polygon points="1081.3,293.3 1089.7,291.7 1093.0,306.7 1182.5,254.4 1186.3,268.8 1185.6,285.0 1192.5,283.8 1208.8,276.9 1217.5,278.1 1218.1,286.3 1221.3,292.5 1218.8,296.3 1213.8,304.4 1220.0,303.8 1225.0,308.8 1230.0,303.8 1235.0,302.5 1237.5,307.5 1245.0,312.5 1251.3,313.8 1252.5,320.0 1261.3,315.0 1277.5,307.5 1286.3,298.8 1292.5,291.3 1292.5,285.0 1300.0,281.3 1303.8,275.0 1303.8,265.0 1317.5,263.8 1330.0,265.0 1333.8,264.4 1332.5,268.8 1326.3,272.5 1326.3,282.5 1313.8,290.0 1301.3,297.5 1293.8,305.0 1300.0,310.0 1303.8,321.3 1292.5,327.5 1280.0,335.9 1254.7,341.7 1241.3,346.7 1224.7,358.3 1215.0,364.0 1205.0,370.5 1196.0,374.5 1185.0,380.0 1176.0,385.0 1171.0,388.5 1163.0,393.5 1158.5,398.5 1155.0,392.5 1152.5,385.0 1148.8,380.0 1147.5,372.5 1138.8,370.0 1130.0,368.1 1117.5,368.8 1115.0,362.5 1111.3,355.0 1113.8,348.8 1111.3,345.0 1102.5,346.3 1090.0,345.0 1080.0,347.5 1072.5,343.8 1062.5,343.8 1063.8,338.8 1067.5,331.3 1071.3,325.0 1073.0,321.7 1079.7,315.0 1088.0,311.7 1089.7,306.7 1078.0,305.0" fill="#7A7AC8" stroke="#4E4E4E" stroke-width="1.1" stroke-linejoin="round"/>
<polygon points="960.0,371.9 937.5,378.1 920.0,386.3 903.8,395.0 885.0,408.1 875.0,416.3 867.5,423.1 871.3,426.3 871.3,432.5 875.0,433.8 875.0,448.8 887.5,455.0 883.8,458.8 891.3,466.3 892.5,471.3 896.3,471.9 896.3,466.3 903.8,465.6 902.5,455.0 906.3,455.0 908.8,458.1 916.3,458.8 920.0,467.5 922.5,462.5 926.3,460.0 935.0,465.0 942.5,464.4 947.5,461.3 948.8,456.3 955.0,453.8 956.3,446.3 955.6,440.0 958.8,435.6 961.3,440.0 963.8,441.9 970.0,440.0 967.5,430.0 972.5,422.5 976.3,417.5 980.6,411.9 981.3,402.5 977.5,395.0 973.8,387.5 971.9,383.1 976.3,381.3 972.5,373.8 962.5,374.4" fill="#D2D2E6" stroke="#4E4E4E" stroke-width="1.1" stroke-linejoin="round"/>
<polygon points="960.0,371.9 972.5,366.3 991.3,361.3 1006.3,357.5 1005.6,349.4 1023.8,341.3 1033.0,339.2 1029.7,346.7 1036.3,353.3 1038.8,368.3 1036.3,380.0 1041.3,393.3 1049.7,406.7 1052.5,402.5 1045.0,398.1 1038.8,400.0 1033.1,406.3 1031.3,410.6 1026.9,410.6 1023.1,405.0 1016.3,405.0 1014.4,396.9 1010.6,394.4 1007.5,400.0 995.6,402.5 995.0,409.4 980.6,411.9 981.3,402.5 977.5,395.0 973.8,387.5 971.9,383.1 976.3,381.3 972.5,373.8 962.5,374.4" fill="#D2D2E6" stroke="#4E4E4E" stroke-width="1.1" stroke-linejoin="round"/>
<polygon points="920.0,467.5 922.5,462.5 926.3,460.0 935.0,465.0 942.5,464.4 947.5,461.3 948.8,456.3 946.9,465.0 947.5,479.4 956.3,479.4 962.5,481.9 970.0,485.0 975.0,488.8 982.5,495.0 990.0,501.9 980.0,507.5 972.5,515.0 967.5,521.3 960.0,526.3 946.3,531.3 932.5,538.8 937.5,533.8 938.8,528.8 940.0,522.5 935.0,516.3 926.3,512.5 928.1,506.3 926.9,498.8 921.3,496.3 920.6,482.5" fill="#B2B2DE" stroke="#4E4E4E" stroke-width="1.1" stroke-linejoin="round"/>
<polygon points="948.8,456.3 955.0,453.8 956.3,446.3 955.6,440.0 958.8,435.6 961.3,440.0 963.8,441.9 970.0,442.5 973.8,456.3 977.5,462.5 985.0,466.3 987.5,473.1 1000.0,474.4 1003.1,480.0 1005.0,487.5 1010.0,491.3 1006.3,495.0 1003.8,500.0 1001.3,506.3 1007.5,507.5 997.5,512.5 995.0,507.5 990.0,501.9 982.5,495.0 975.0,488.8 970.0,485.0 962.5,481.9 956.3,479.4 947.5,479.4 946.9,465.0" fill="#E4E4F0" stroke="#4E4E4E" stroke-width="1.1" stroke-linejoin="round"/>
<polygon points="1010.0,491.3 1022.5,485.0 1035.0,482.5 1040.0,487.5 1042.5,492.5 1047.5,488.8 1048.8,490.1 1051.4,495.3 1054.9,503.2 1055.8,511.0 1048.8,509.3 1044.0,512.8 1045.3,522.4 1047.9,531.1 1048.8,537.0 1042.0,545.0 1041.0,556.0 1037.0,556.5 1033.0,550.0 1031.3,542.5 1026.3,537.5 1013.8,535.0 1003.8,533.8 997.5,526.3 996.3,516.3 997.5,512.5 1007.5,507.5 1001.3,506.3 1003.8,500.0 1006.3,495.0" fill="#D2D2E6" stroke="#4E4E4E" stroke-width="1.1" stroke-linejoin="round"/>
<polygon points="977.5,462.5 983.8,458.8 992.5,452.5 1005.0,445.0 1020.0,438.8 1036.3,431.3 1050.0,425.0 1058.8,420.0 1067.5,417.5 1069.4,420.0 1065.0,426.3 1063.8,432.5 1065.0,438.8 1070.0,443.8 1073.8,451.3 1075.6,460.0 1076.3,470.0 1077.5,483.8 1072.5,481.3 1066.3,477.5 1060.0,476.3 1057.5,476.1 1056.3,481.3 1052.5,486.3 1047.5,488.8 1042.5,492.5 1040.0,487.5 1035.0,482.5 1022.5,485.0 1010.0,491.3 1005.0,487.5 1003.1,480.0 1000.0,474.4 987.5,473.1 985.0,466.3" fill="#9898D4" stroke="#4E4E4E" stroke-width="1.1" stroke-linejoin="round"/>
<polygon points="968.1,428.8 972.5,420.0 980.0,411.9 995.0,409.4 995.6,402.5 1007.5,400.0 1010.6,394.4 1014.4,396.9 1016.3,405.0 1023.1,405.0 1026.9,410.6 1031.3,410.6 1033.1,406.3 1038.8,400.0 1045.0,398.1 1052.5,402.5 1056.9,410.0 1057.5,417.5 1058.8,420.0 1050.0,425.0 1036.3,431.3 1020.0,438.8 1005.0,445.0 992.5,452.5 983.8,458.8 977.5,462.5 973.8,456.3 971.3,446.3 970.0,442.5 963.8,443.8 965.0,441.3 969.4,437.5" fill="#3E3EA6" stroke="#4E4E4E" stroke-width="1.1" stroke-linejoin="round"/>
<polygon points="911.3,543.8 920.0,541.3 932.5,538.8 946.3,531.3 960.0,526.3 967.5,521.3 972.5,515.0 980.0,507.5 990.0,501.9 995.0,507.5 997.5,512.5 996.3,516.3 997.5,526.3 1003.8,533.8 1013.8,535.0 1026.3,537.5 1031.3,542.5 1033.0,550.0 1037.0,556.5 1041.0,556.0 1042.0,545.0 1048.8,537.0 1047.9,531.1 1045.3,522.4 1044.0,512.8 1048.8,509.3 1055.8,511.0 1054.9,503.2 1051.4,495.3 1048.8,490.1 1052.3,487.5 1054.9,484.0 1057.5,476.1 1061.0,477.0 1068.9,484.8 1076.7,488.3 1081.1,493.6 1080.2,497.0 1084.6,498.8 1085.0,509.3 1083.3,515.4 1085.0,518.9 1081.1,526.7 1078.5,534.6 1078.9,536.7 1085.8,542.0 1091.1,537.6 1097.6,536.3 1099.8,541.1 1106.8,542.0 1098.9,543.7 1097.2,554.2 1092.8,562.1 1088.5,566.4 1098.9,567.3 1105.9,568.2 1106.8,574.3 1111.2,578.6 1115.5,579.5 1112.0,583.9 1113.8,590.0 1120.8,594.3 1125.1,596.1 1126.0,602.0 1124.2,603.5 1113.8,605.2 1105.9,608.7 1102.4,614.0 1100.7,624.4 1094.6,633.2 1091.1,639.3 1089.3,646.2 1085.0,652.4 1078.9,653.2 1076.2,648.9 1074.5,636.6 1073.6,626.2 1071.0,626.2 1062.3,628.8 1059.7,636.6 1056.2,631.4 1043.1,631.4 1041.3,627.1 1047.5,620.9 1050.9,616.6 1043.1,613.1 1035.2,607.9 1030.0,610.5 1026.3,616.3 1020.0,616.3 1007.5,612.5 1003.8,610.0 995.0,606.9 983.8,606.3 987.5,600.0 988.1,587.5 982.5,585.0 970.0,580.0 968.8,571.3 965.0,572.5 962.5,577.5 953.8,575.0 946.3,581.3 942.5,588.8 932.5,586.3 916.3,581.3 912.5,581.3 913.8,575.0 903.8,565.0 908.8,555.0" fill="#6767C0" stroke="#4E4E4E" stroke-width="1.1" stroke-linejoin="round"/>
<polyline points="1080.0,360.0 1090.0,360.0 1100.0,356.0 1107.5,353.8 1112.5,348.8" fill="none" stroke="#4E4E4E" stroke-width="1.1" stroke-linejoin="round"/>
<polyline points="1080.0,360.0 1076.3,365.0 1076.3,375.0 1082.5,385.0 1085.0,395.0 1082.5,405.0 1077.5,410.0 1075.0,416.0" fill="none" stroke="#4E4E4E" stroke-width="1.1" stroke-linejoin="round"/>
<polyline points="1110.0,368.8 1107.5,376.3 1102.5,386.3 1100.0,390.0 1105.0,395.0 1111.3,397.5 1111.3,407.5 1113.8,416.0 1113.0,425.0" fill="none" stroke="#4E4E4E" stroke-width="1.1" stroke-linejoin="round"/>
<polyline points="1067.5,381.3 1061.3,390.0 1052.5,395.0 1055.0,400.0" fill="none" stroke="#4E4E4E" stroke-width="1.1" stroke-linejoin="round"/>
<polyline points="1076.3,375.0 1067.5,381.3" fill="none" stroke="#4E4E4E" stroke-width="1.1" stroke-linejoin="round"/>
<polyline points="1030,610.5 1031,590 1032,570 1033.5,555 1037,556.5" fill="none" stroke="#4A4A8A" stroke-width="1" opacity="0.55"/>
<polygon points="940.0,400.0 955.0,392.0 965.0,385.0 985.0,378.0 1000.0,372.0 1015.0,368.0 1030.0,372.0 1035.0,385.0 1030.0,395.0 1010.0,393.0 995.0,398.0 980.0,405.0 972.0,415.0 965.0,428.0 960.0,440.0 950.0,452.0 942.0,460.0 935.0,455.0 940.0,440.0 948.0,425.0" fill="#A9C8EC" opacity="0.3"/>
<polygon points="960.0,560.0 975.0,552.0 990.0,548.0 1000.0,555.0 1010.0,565.0 1020.0,580.0 1015.0,595.0 1000.0,600.0 990.0,590.0 985.0,580.0 975.0,572.0 965.0,570.0" fill="#5C86D8" opacity="0.2"/>
<polygon points="1045.0,512.0 1055.0,512.0 1058.0,525.0 1050.0,535.0 1046.0,525.0" fill="#4F6FD0" opacity="0.5"/>
<polyline points="1123,352 1140,356 1160,348 1180,340 1200,330 1215,318 1225,308" fill="none" stroke="#6C7FD0" stroke-width="1.4" opacity="0.6"/>
<polyline points="852,372 860,371.5 866,372.5 872,369.5 879,365 886,358.5 891,356.5 898,355 904,354.5 911,357.5 918.5,361" fill="none" stroke="#79C7EC" stroke-width="1.8" stroke-linejoin="round" opacity="0.9"/>
<g opacity="1"><path d="M871.3 559.0 Q880.5 561.0 889.7 559.0 L889.7 568.7 Q889.7 574.0 880.5 576.7 Q871.3 574.0 871.3 568.7 Z" fill="#2B49A0" stroke="#fff" stroke-width="1"/><path d="M872.1 559.6 Q880.5 561.4 888.9 559.6 L888.9 563.8 L872.1 563.8 Z" fill="#C8303A"/><text x="880.5" y="573.2" font-size="9.7" font-weight="bold" fill="#fff" text-anchor="middle" font-family="Liberation Sans, sans-serif">40</text></g>
<g opacity="1"><path d="M1068.6 652.7 Q1077.8 654.7 1087.0 652.7 L1087.0 662.2 Q1087.0 667.4 1077.8 670.0 Q1068.6 667.4 1068.6 662.2 Z" fill="#2B49A0" stroke="#fff" stroke-width="1"/><path d="M1069.4 653.3 Q1077.8 655.1 1086.2 653.3 L1086.2 657.4 L1069.4 657.4 Z" fill="#C8303A"/><text x="1077.8" y="666.5" font-size="9.5" font-weight="bold" fill="#fff" text-anchor="middle" font-family="Liberation Sans, sans-serif">40</text></g>
<g opacity="1"><path d="M1133.3 703.3 Q1142.3 705.3 1151.3 703.3 L1151.3 713.0 Q1151.3 718.3 1142.3 721.0 Q1133.3 718.3 1133.3 713.0 Z" fill="#2B49A0" stroke="#fff" stroke-width="1"/><path d="M1134.1 703.9 Q1142.3 705.7 1150.5 703.9 L1150.5 708.1 L1134.1 708.1 Z" fill="#C8303A"/><text x="1142.3" y="717.5" font-size="9.7" font-weight="bold" fill="#fff" text-anchor="middle" font-family="Liberation Sans, sans-serif">40</text></g>
<g opacity="0.3"><path d="M979.1 515.0 Q988.2 517.0 997.4 515.0 L997.4 524.2 Q997.4 529.2 988.2 531.7 Q979.1 529.2 979.1 524.2 Z" fill="#2B49A0" stroke="#fff" stroke-width="1"/><path d="M979.9 515.6 Q988.2 517.4 996.6 515.6 L996.6 519.5 L979.9 519.5 Z" fill="#C8303A"/><text x="988.2" y="528.4" font-size="9.2" font-weight="bold" fill="#fff" text-anchor="middle" font-family="Liberation Sans, sans-serif">40</text></g>
<g opacity="1"><path d="M1284.7 348.3 Q1293.5 350.3 1302.3 348.3 L1302.3 358.4 Q1302.3 363.9 1293.5 366.7 Q1284.7 363.9 1284.7 358.4 Z" fill="#2B49A0" stroke="#fff" stroke-width="1"/><path d="M1285.5 348.9 Q1293.5 350.7 1301.5 348.9 L1301.5 353.3 L1285.5 353.3 Z" fill="#C8303A"/><text x="1293.5" y="363.0" font-size="10.1" font-weight="bold" fill="#fff" text-anchor="middle" font-family="Liberation Sans, sans-serif">81</text></g>
<g opacity="0.3"><path d="M1048.7 456.7 Q1058.0 458.7 1067.3 456.7 L1067.3 465.8 Q1067.3 470.8 1058.0 473.3 Q1048.7 470.8 1048.7 465.8 Z" fill="#2B49A0" stroke="#fff" stroke-width="1"/><path d="M1049.5 457.3 Q1058.0 459.1 1066.5 457.3 L1066.5 461.2 L1049.5 461.2 Z" fill="#C8303A"/><text x="1058.0" y="470.0" font-size="9.1" font-weight="bold" fill="#fff" text-anchor="middle" font-family="Liberation Sans, sans-serif">81</text></g>
<g opacity="1"><path d="M1354.0 535.0 Q1362.0 537.0 1370.0 535.0 L1370.0 544.2 Q1370.0 549.2 1362.0 551.7 Q1354.0 549.2 1354.0 544.2 Z" fill="#2B49A0" stroke="#fff" stroke-width="1"/><path d="M1354.8 535.6 Q1362.0 537.4 1369.2 535.6 L1369.2 539.5 L1354.8 539.5 Z" fill="#C8303A"/><text x="1362.0" y="548.4" font-size="9.2" font-weight="bold" fill="#fff" text-anchor="middle" font-family="Liberation Sans, sans-serif">26</text></g>
<g><path d="M1026 166 h18 v6 q0 5 -9 6.5 q-9 -1.5 -9 -6.5 z" fill="#fff" stroke="#222" stroke-width="1"/><text x="1035" y="175" font-size="8" font-weight="bold" text-anchor="middle" fill="#111" font-family="Liberation Sans, sans-serif">58</text></g>
<g opacity="0.22"><rect x="964" y="374" width="20" height="12" rx="3" fill="#fff" stroke="#555" stroke-width="0.8"/><text x="974" y="383.5" font-size="8.5" font-weight="bold" text-anchor="middle" fill="#444" font-family="Liberation Sans, sans-serif">11W</text></g>
<g><rect x="682.5" y="313.5" width="32.5" height="13" rx="2" fill="#fff" stroke="#333" stroke-width="1"/><text x="698.5" y="323.6" font-size="9.6" font-weight="bold" text-anchor="middle" fill="#333" font-family="Liberation Sans, sans-serif">SR 63</text></g>
<text x="1083" y="173.5" font-size="11.6" fill="#333" textLength="51" lengthAdjust="spacingAndGlyphs" font-family="Liberation Sans, sans-serif" stroke="#fff" stroke-width="2.2" stroke-opacity="0.75" paint-order="stroke">Jonesville</text>
<text x="799.2" y="219.7" font-size="13.7" fill="#333" textLength="72.9" lengthAdjust="spacingAndGlyphs" font-family="Liberation Sans, sans-serif" stroke="#fff" stroke-width="2.2" stroke-opacity="0.75" paint-order="stroke">Middlesboro</text>
<text x="1029.7" y="263.5" font-size="13.2" fill="#333" textLength="61" lengthAdjust="spacingAndGlyphs" font-family="Liberation Sans, sans-serif" stroke="#fff" stroke-width="2.2" stroke-opacity="0.75" paint-order="stroke">Sneedville</text>
<text x="1243" y="267.5" font-size="17.2" fill="#222" textLength="87.7" lengthAdjust="spacingAndGlyphs" font-family="Liberation Sans, sans-serif" stroke="#fff" stroke-width="2.2" stroke-opacity="0.75" paint-order="stroke">Church Hill</text>
<text x="1319.7" y="203.0" font-size="13.5" fill="#333" textLength="57" lengthAdjust="spacingAndGlyphs" font-family="Liberation Sans, sans-serif" stroke="#fff" stroke-width="2.2" stroke-opacity="0.75" paint-order="stroke">Gate City</text>
<text x="1190.7" y="295.4" font-size="12" textLength="68" lengthAdjust="spacingAndGlyphs" font-family="Liberation Sans, sans-serif"><tspan fill="#6F6FB0">Surg</tspan><tspan fill="#333">oinsville</tspan></text>
<text x="1123" y="332.5" font-size="13.1" fill="#6464AC" textLength="65" lengthAdjust="spacingAndGlyphs" font-family="Liberation Sans, sans-serif">Rogersville</text>
<text x="1207" y="372.6" font-size="11.8" fill="#333" textLength="48.7" lengthAdjust="spacingAndGlyphs" font-family="Liberation Sans, sans-serif" stroke="#fff" stroke-width="2.2" stroke-opacity="0.75" paint-order="stroke">Baileyton</text>
<text x="878" y="306.3" font-size="12.6" fill="#9A9AC8" textLength="48.3" lengthAdjust="spacingAndGlyphs" font-family="Liberation Sans, sans-serif">Tazewell</text>
<text x="760.3" y="419.9" font-size="13.7" textLength="77" lengthAdjust="spacingAndGlyphs" font-family="Liberation Sans, sans-serif"><tspan fill="#9A9AC8">Maynardv</tspan><tspan fill="#333">ille</tspan></text>
<text x="774.7" y="458.5" font-size="12.2" fill="#333" textLength="51.6" lengthAdjust="spacingAndGlyphs" font-family="Liberation Sans, sans-serif" stroke="#fff" stroke-width="2.2" stroke-opacity="0.75" paint-order="stroke">Plainview</text>
<text x="902.3" y="402.5" font-size="11.9" fill="#A8A8CC" textLength="47.4" lengthAdjust="spacingAndGlyphs" font-family="Liberation Sans, sans-serif">Rutledge</text>
<text x="997.3" y="367.5" font-size="11.5" fill="#B0B0CE" textLength="65.7" lengthAdjust="spacingAndGlyphs" font-family="Liberation Sans, sans-serif">Bean Station</text>
<text x="986.2" y="440.0" font-size="14.2" textLength="77" lengthAdjust="spacingAndGlyphs" font-family="Liberation Sans, sans-serif"><tspan fill="#22226E">Morris</tspan><tspan fill="#6A6AAE">town</tspan></text>
<text x="1092" y="417.8" font-size="12.5" fill="#C0C0C8" textLength="54.3" lengthAdjust="spacingAndGlyphs" font-family="Liberation Sans, sans-serif">Bulls Gap</text>
<text x="1153" y="453.5" font-size="11.7" fill="#333" textLength="47.7" lengthAdjust="spacingAndGlyphs" font-family="Liberation Sans, sans-serif" stroke="#fff" stroke-width="2.2" stroke-opacity="0.75" paint-order="stroke">Mosheim</text>
<text x="1228.7" y="461.9" font-size="16.9" fill="#222" textLength="76" lengthAdjust="spacingAndGlyphs" font-family="Liberation Sans, sans-serif" stroke="#fff" stroke-width="2.2" stroke-opacity="0.75" paint-order="stroke">Tusculum</text>
<text x="723" y="506.1" font-size="12.8" fill="#333" textLength="30" lengthAdjust="spacingAndGlyphs" font-family="Liberation Sans, sans-serif" stroke="#fff" stroke-width="2.2" stroke-opacity="0.75" paint-order="stroke">Halls</text>
<text x="704.7" y="521.3" font-size="12.8" fill="#333" textLength="65.6" lengthAdjust="spacingAndGlyphs" font-family="Liberation Sans, sans-serif" stroke="#fff" stroke-width="2.2" stroke-opacity="0.75" paint-order="stroke">Crossroads</text>
<text x="895.7" y="489.5" font-size="13.2" textLength="80.6" lengthAdjust="spacingAndGlyphs" font-family="Liberation Sans, sans-serif"><tspan fill="#333">Jeff</tspan><tspan fill="#8A8AB8">erson City</tspan></text>
<text x="943.7" y="551.0" font-size="11.8" fill="#4A4A98" textLength="54.3" lengthAdjust="spacingAndGlyphs" font-family="Liberation Sans, sans-serif">Dandridge</text>
<text x="1009.7" y="535.7" font-size="11.9" fill="#B8B8D0" textLength="55" lengthAdjust="spacingAndGlyphs" font-family="Liberation Sans, sans-serif">Baneberry</text>
<text x="1084" y="554.4" font-size="12.5" textLength="65.3" lengthAdjust="spacingAndGlyphs" font-family="Liberation Sans, sans-serif"><tspan fill="#5A5AA8">Pa</tspan><tspan fill="#333">rrottsville</tspan></text>
<text x="1039.8" y="577.6" font-size="16" fill="#3A3A90" textLength="69.1" lengthAdjust="spacingAndGlyphs" font-family="Liberation Sans, sans-serif">Newport</text>
<text x="708" y="581.8" font-size="17.5" fill="#222" textLength="71.3" lengthAdjust="spacingAndGlyphs" font-family="Liberation Sans, sans-serif" stroke="#fff" stroke-width="2.2" stroke-opacity="0.75" paint-order="stroke">Knoxville</text>
<text x="874.8" y="633" font-size="12.3" fill="#333" textLength="60.9" lengthAdjust="spacingAndGlyphs" font-family="Liberation Sans, sans-serif" stroke="#fff" stroke-width="2.2" stroke-opacity="0.75" paint-order="stroke">Sevierville</text>
<text x="1204" y="619.6" font-size="11.9" fill="#333" textLength="62.3" lengthAdjust="spacingAndGlyphs" font-family="Liberation Sans, sans-serif" stroke="#fff" stroke-width="2.2" stroke-opacity="0.75" paint-order="stroke">Hot Springs</text>
<text x="873.7" y="677.6" font-size="11.4" fill="#333" textLength="68.6" lengthAdjust="spacingAndGlyphs" font-family="Liberation Sans, sans-serif" stroke="#fff" stroke-width="2.2" stroke-opacity="0.75" paint-order="stroke">Pigeon Forge</text>
<text x="1274.7" y="672.4" font-size="13.5" fill="#333" textLength="51" lengthAdjust="spacingAndGlyphs" font-family="Liberation Sans, sans-serif" stroke="#fff" stroke-width="2.2" stroke-opacity="0.75" paint-order="stroke">Marshall</text>
<text x="1334.7" y="657.1" font-size="15" fill="#333" textLength="33" lengthAdjust="spacingAndGlyphs" font-family="Liberation Sans, sans-serif" stroke="#fff" stroke-width="2.2" stroke-opacity="0.75" paint-order="stroke">Mars</text>
<text x="693" y="694.5" font-size="14.1" fill="#333" textLength="55.7" lengthAdjust="spacingAndGlyphs" font-family="Liberation Sans, sans-serif" stroke="#fff" stroke-width="2.2" stroke-opacity="0.75" paint-order="stroke">Maryville</text>
<text x="683" y="658.5" font-size="13" fill="#333" textLength="28.3" lengthAdjust="spacingAndGlyphs" font-family="Liberation Sans, sans-serif" stroke="#fff" stroke-width="2.2" stroke-opacity="0.75" paint-order="stroke">sville</text>
<text x="899.7" y="717.9" font-size="12.3" fill="#333" textLength="56.6" lengthAdjust="spacingAndGlyphs" font-family="Liberation Sans, sans-serif" stroke="#fff" stroke-width="2.2" stroke-opacity="0.75" paint-order="stroke">Gatlinburg</text>
<rect x="683" y="706" width="189" height="16" fill="#fff" opacity="0.6"/>
<text x="686.3" y="717" font-size="11.4" fill="#555" textLength="183.4" lengthAdjust="spacingAndGlyphs" font-family="Liberation Sans, sans-serif">© 2024 Mapbox © OpenStreetMap</text>
<rect x="1227.90" y="693.5" width="15.4" height="14.5" fill="#EEEEF1"/>
<rect x="1243.20" y="693.5" width="15.4" height="14.5" fill="#D2D2EC"/>
<rect x="1258.50" y="693.5" width="15.4" height="14.5" fill="#B1B1E2"/>
<rect x="1273.80" y="693.5" width="15.4" height="14.5" fill="#9595D8"/>
<rect x="1289.10" y="693.5" width="15.4" height="14.5" fill="#7979CD"/>
<rect x="1304.40" y="693.5" width="15.4" height="14.5" fill="#6464C4"/>
<rect x="1319.70" y="693.5" width="15.4" height="14.5" fill="#5252BC"/>
<rect x="1335.00" y="693.5" width="15.4" height="14.5" fill="#4343AF"/>
<rect x="1227.5" y="693.5" width="122.9" height="14.5" fill="none" stroke="#9A9A9A" stroke-width="1"/>
<text x="1228" y="718.2" font-size="10.6" font-weight="bold" fill="#111" font-family="Liberation Sans, sans-serif">1,675</text>
<text x="1350.5" y="718.2" font-size="10.6" font-weight="bold" fill="#111" text-anchor="end" font-family="Liberation Sans, sans-serif">24,784</text>
</g></svg>

<!-- footer -->
<div class="a" style="left:67px;top:751px;font-size:11px;color:#222;white-space:nowrap;line-height:14px">Copyright © <span style="color:#C8646E">2024</span> by Claritas,LLC. Source: Claritas - Pop-Facts Premier <span style="color:#C8646E">2024</span>; Current Year (CY) = <span style="color:#C8646E">2024</span></div>

<!-- logo -->
<svg class="a" style="left:1270px;top:722px" width="105" height="48" viewBox="1270 722 105 48">
<text x="1301.5" y="746.8" font-size="24.4" font-weight="bold" fill="#1570C6" textLength="64.4" lengthAdjust="spacingAndGlyphs" font-family="Liberation Sans, sans-serif">forv/s</text>
<text x="1282.3" y="762.7" font-size="23.6" font-weight="bold" fill="#1B1F75" textLength="83.6" lengthAdjust="spacingAndGlyphs" font-family="Liberation Sans, sans-serif">mazars</text>
</svg>
</body></html>
